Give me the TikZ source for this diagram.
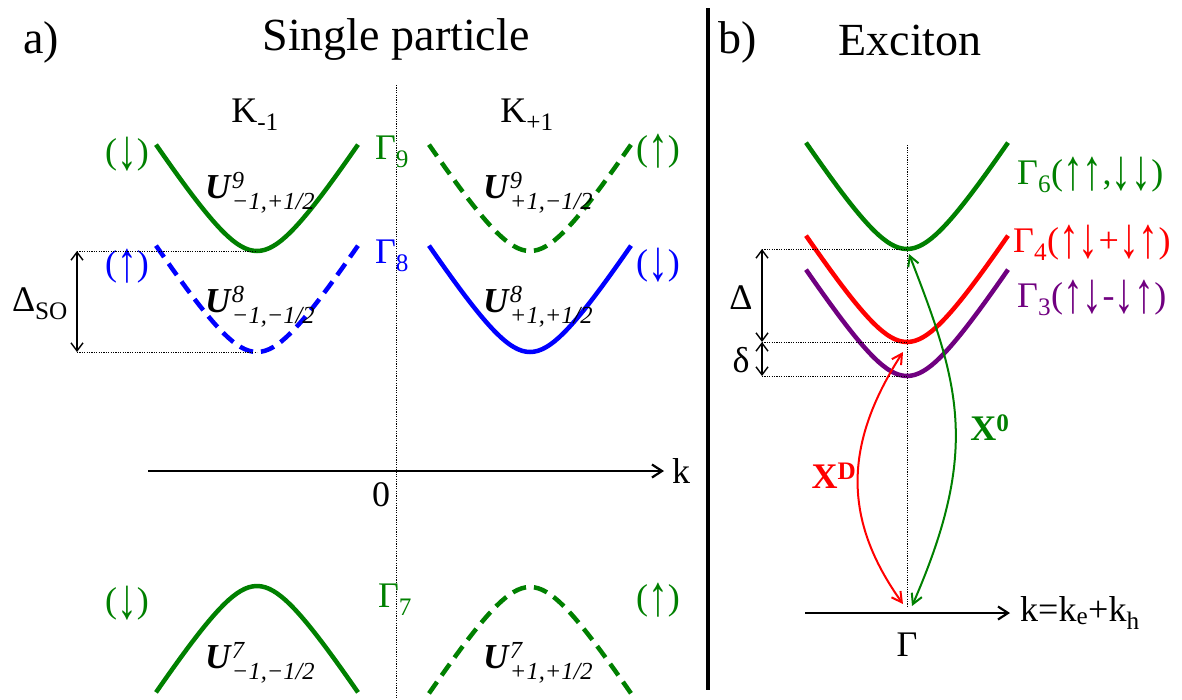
\documentclass[tikz,border=0pt]{standalone}
\usepackage{fontspec}
\setmainfont{Liberation Serif}
\usepackage{amsmath}
\usepackage{graphicx}
\usetikzlibrary{arrows.meta,positioning}
\definecolor{cgreen}{RGB}{0,128,0}
\definecolor{cblue}{RGB}{0,0,255}
\definecolor{cred}{RGB}{255,0,0}
\definecolor{cpurple}{RGB}{112,0,128}
\newcommand{\bandline}[4][]{\draw[#1] plot[domain=-101:101,samples=51] ({#2+\x},{#3-(#4)*62*(sqrt(1+(\x/40)^2)-1)});}
\newcommand{\Ulab}[2]{\textbf{\textit{U}}$^{\textit{#1}}_{\textit{#2}}$}
\newcommand{\spinup}{\raisebox{-0.15em}{\scalebox{1.1}[1.6]{↑}}}
\newcommand{\spindn}{\raisebox{-0.15em}{\scalebox{1.1}[1.6]{↓}}}
\begin{document}
\begin{tikzpicture}[x=1pt,y=-1pt,
  title/.style={font=\fontsize{46}{50}\selectfont},
  lbl/.style={font=\fontsize{36}{40}\selectfont,inner sep=0pt},
  ulbl/.style={font=\fontsize{35}{38}\selectfont,inner sep=0pt,anchor=base west},
  band/.style={line width=4.5pt},
  dashband/.style={line width=4.5pt,dash pattern=on 14pt off 8pt},
  kaxis/.style={line width=2.2pt,-{Straight Barb[length=10pt,width=13pt]}},
  dimline/.style={line width=1.4pt,{Straight Barb[length=8pt,width=12pt]}-{Straight Barb[length=8pt,width=12pt]}},
  guide/.style={line width=1pt,dash pattern=on 1.2pt off 1.2pt},
  trans/.style={line width=2pt,{Straight Barb[length=10pt,width=11pt]}-{Straight Barb[length=10pt,width=11pt]}}]
  \useasboundingbox (0,0) rectangle (1182,699);
  \node[title] (ttla) at (41,42) {a)};
  \node[title] (ttlsp) at (396,40) {Single particle};
  \node[title] (ttlb) at (738,42) {b)};
  \node[title] (ttlex) at (910,40) {Exciton};
  \coordinate (divtop) at (708,8);
  \coordinate (divbot) at (708,690);
  \draw[line width=4pt] (divtop) -- (divbot);
  \coordinate (vatop) at (396,85);
  \coordinate (vabot) at (396,699);
  \draw[guide] (vatop) -- (vabot);
  \node[lbl] (km) at (255,115) {K\textsubscript{-1}};
  \node[lbl] (kp) at (527,115) {K\textsubscript{+1}};
  \bandline[band,cgreen]{257}{251}{1}
  \bandline[dashband,cgreen]{530}{251}{1}
  \bandline[dashband,cblue]{257}{352}{1}
  \bandline[band,cblue]{530}{352}{1}
  \bandline[band,cgreen]{257}{586}{-1}
  \bandline[dashband,cgreen]{530}{587}{-1}
  \coordinate (g9min) at (257,251);
  \coordinate (g8min) at (257,352);
  \node[lbl,text=cgreen] (g9) at (392,152) {Γ\textsubscript{9}};
  \node[lbl,text=cblue] (g8) at (392,256) {Γ\textsubscript{8}};
  \node[lbl,text=cgreen] (g7) at (395,600) {Γ\textsubscript{7}};
  \node[lbl,text=cgreen] (s9m) at (127,154) {(\spindn)};
  \node[lbl,text=cblue] (s8m) at (127,266) {(\spinup)};
  \node[lbl,text=cgreen] (s9p) at (658,151) {(\spinup)};
  \node[lbl,text=cblue] (s8p) at (658,265) {(\spindn)};
  \node[lbl,text=cgreen] (s7m) at (127,603) {(\spindn)};
  \node[lbl,text=cgreen] (s7p) at (658,600) {(\spinup)};
  \node[ulbl] (u9m) at (205,198) {\Ulab{9}{−1,+1/2}};
  \node[ulbl] (u8m) at (205,312) {\Ulab{8}{−1,−1/2}};
  \node[ulbl] (u9p) at (483,198) {\Ulab{9}{+1,−1/2}};
  \node[ulbl] (u8p) at (483,312) {\Ulab{8}{+1,+1/2}};
  \node[ulbl] (u7m) at (205,668) {\Ulab{7}{−1,−1/2}};
  \node[ulbl] (u7p) at (483,668) {\Ulab{7}{+1,+1/2}};
  \coordinate (dsotop) at (77,251);
  \coordinate (dsobot) at (77,352);
  \draw[guide] (dsotop) -- (g9min);
  \draw[guide] (dsobot) -- (g8min);
  \draw[dimline] (dsotop) -- (dsobot);
  \node[lbl] (dso) at (40,304) {Δ\textsubscript{SO}};
  \coordinate (axa0) at (148,471);
  \coordinate (axa1) at (664,471);
  \draw[kaxis] (axa0) -- (axa1);
  \node[lbl,right=8pt of axa1] (kla) {k};
  \node[lbl] (zero) at (381,495) {0};
  \coordinate (vbtop) at (907,145);
  \coordinate (vbbot) at (907,608);
  \draw[guide] (vbtop) -- (vbbot);
  \bandline[band,cgreen]{907}{249}{1}
  \bandline[band,cred]{907}{342}{1}
  \bandline[band,cpurple]{907}{376}{1}
  \coordinate (g6min) at (907,249);
  \coordinate (g4min) at (907,342);
  \coordinate (g3min) at (907,376);
  \node[lbl,text=cgreen,anchor=west] (g6) at (1017,175) {Γ\textsubscript{6}(\spinup\spinup,\spindn\spindn)};
  \node[lbl,text=cred,anchor=west] (g4) at (1013,243) {Γ\textsubscript{4}(\spinup\spindn+\spindn\spinup)};
  \node[lbl,text=cpurple,anchor=west] (g3) at (1017,298) {Γ\textsubscript{3}(\spinup\spindn-\spindn\spinup)};
  \coordinate (dtop) at (762,249);
  \coordinate (dmid) at (762,342);
  \coordinate (dbot) at (762,376);
  \draw[guide] (dtop) -- (g6min);
  \draw[guide] (dmid) -- (g4min);
  \draw[guide] (dbot) -- (g3min);
  \draw[dimline] (dtop) -- (dmid);
  \draw[dimline] (dmid) -- (dbot);
  \node[lbl] (dlt) at (741,298) {Δ};
  \node[lbl] (dsm) at (741,360) {δ};
  \coordinate (axb0) at (805,613);
  \coordinate (axb1) at (1010,613);
  \draw[kaxis] (axb0) -- (axb1);
  \node[lbl,right=10pt of axb1] (klb) {k=k\textsubscript{e}+k\textsubscript{h}};
  \node[lbl] (gam) at (907,645) {Γ};
  \coordinate (xdtop) at (903,352);
  \coordinate (xdbot) at (903,604);
  \coordinate (xotop) at (909,254);
  \coordinate (xobot) at (912,606);
  \draw[trans,cred] (xdtop) .. controls (843,445) and (843,520) .. (xdbot);
  \draw[trans,cgreen] (xotop) .. controls (960,385) and (980,450) .. (xobot);
  \node[lbl,text=cred] (xd) at (834,476) {\textbf{X\textsuperscript{D}}};
  \node[lbl,text=cgreen] (xo) at (990,428) {\textbf{X\textsuperscript{0}}};
\end{tikzpicture}
\end{document}
